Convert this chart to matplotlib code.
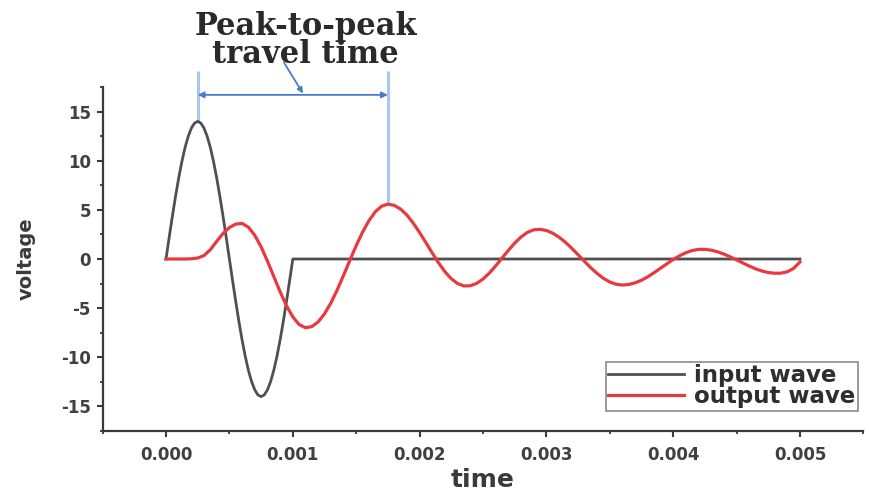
import numpy as np
import matplotlib
matplotlib.use("Agg")
import matplotlib.pyplot as plt
from matplotlib.ticker import MultipleLocator, FormatStrFormatter

# ---- data -------------------------------------------------------------
# input wave: one cycle of a 1 kHz, 14 V sine burst followed by silence
input_time = [0.000, 0.000025, 0.00005, 0.000075, 0.0001, 0.000125, 0.00015,
              0.000175, 0.0002, 0.000225, 0.00025, 0.000275, 0.0003, 0.000325,
              0.00035, 0.000375, 0.0004, 0.000425, 0.00045, 0.000475, 0.0005,
              0.000525, 0.00055, 0.000575, 0.0006, 0.000625, 0.00065, 0.000675,
              0.0007, 0.000725, 0.00075, 0.000775, 0.0008, 0.000825, 0.00085,
              0.000875, 0.0009, 0.000925, 0.00095, 0.000975, 0.001, 0.005]
input_voltage = [0.0, 2.19, 4.33, 6.36, 8.23, 9.90, 11.33, 12.47, 13.31, 13.83,
                 14.0, 13.83, 13.31, 12.47, 11.33, 9.90, 8.23, 6.36, 4.33, 2.19,
                 0.0, -2.19, -4.33, -6.36, -8.23, -9.90, -11.33, -12.47, -13.31,
                 -13.83, -14.0, -13.83, -13.31, -12.47, -11.33, -9.90, -8.23,
                 -6.36, -4.33, -2.19, 0.0, 0.0]

# output wave, sampled every 50 microseconds from 0 to 5 ms
sample_step_s = 0.00005
output_voltage = [0.0, 0.0, 0.0, 0.0, 0.02, 0.10, 0.35, 0.95, 1.80, 2.60,
                  3.20, 3.55, 3.62, 3.23, 2.41, 1.24, -0.21, -1.78, -3.33, -4.75,
                  -5.89, -6.67, -6.99, -6.88, -6.40, -5.58, -4.48, -3.15, -1.67, -0.14,
                  1.36, 2.73, 3.89, 4.80, 5.37, 5.58, 5.46, 5.08, 4.47, 3.65,
                  2.69, 1.66, 0.60, -0.40, -1.30, -2.01, -2.50, -2.74, -2.72, -2.48,
                  -2.04, -1.43, -0.70, 0.09, 0.88, 1.62, 2.24, 2.71, 2.97, 3.02,
                  2.90, 2.63, 2.22, 1.70, 1.09, 0.43, -0.24, -0.89, -1.47, -1.97,
                  -2.34, -2.57, -2.65, -2.59, -2.42, -2.16, -1.81, -1.39, -0.94, -0.49,
                  -0.05, 0.33, 0.64, 0.86, 0.98, 0.98, 0.90, 0.73, 0.50, 0.22,
                  -0.09, -0.41, -0.72, -1.00, -1.22, -1.38, -1.45, -1.44, -1.30, -0.95,
                  -0.30]
output_time = np.round(np.arange(len(output_voltage)) * sample_step_s, 6)

# the two peaks used to measure the travel time
peak_times = [0.00025, 0.00175]
peak_values = [14.0, 5.58]

series_labels = ["input wave", "output wave"]
annotation_text = "Peak-to-peak\ntravel time"

# ---- styling ----------------------------------------------------------
plt.rcParams["axes.unicode_minus"] = False
plt.rcParams["font.family"] = ["DejaVu Sans"]

ink = "#3a3a3a"
input_color = "#505050"
output_color = "#e8393f"
marker_color = "#a9c6ec"
arrow_color = "#4a7cc9"

fig = plt.figure(figsize=(8.69, 4.92), dpi=100)
ax = fig.add_axes([102.6 / 869, 61 / 492, 760.8 / 869, 344 / 492])

ax.plot(input_time, input_voltage, color=input_color, lw=2.0,
        label=series_labels[0], zorder=3)
ax.plot(output_time, output_voltage, color=output_color, lw=2.3,
        label=series_labels[1], zorder=4)

ax.set_xlim(-0.0005, 0.0055)
ax.set_ylim(-17.5, 17.5)

ax.xaxis.set_major_locator(MultipleLocator(0.001))
ax.xaxis.set_minor_locator(MultipleLocator(0.0005))
ax.xaxis.set_major_formatter(FormatStrFormatter("%.3f"))
ax.yaxis.set_major_locator(MultipleLocator(5))
ax.yaxis.set_minor_locator(MultipleLocator(2.5))

for side in ("top", "right"):
    ax.spines[side].set_visible(False)
for side in ("left", "bottom"):
    ax.spines[side].set_color(ink)
    ax.spines[side].set_linewidth(1.6)

ax.tick_params(which="major", direction="out", length=4.5, width=1.5,
               color=ink, labelcolor="#404040", labelsize=12)
ax.tick_params(which="minor", direction="out", length=2.5, width=1.3, color=ink)
ax.tick_params(axis="x", which="major", pad=6)
ax.tick_params(axis="y", which="major", pad=4)
for lab in ax.get_xticklabels() + ax.get_yticklabels():
    lab.set_fontweight("bold")

ax.set_xlabel("time", fontsize=18, fontweight="bold", color=ink, labelpad=3)
ax.set_ylabel("voltage", fontsize=14, fontweight="bold", color=ink, labelpad=18)

# vertical markers rising from the two peaks above the plot
marker_top = 19.1
for t, v in zip(peak_times, peak_values):
    ax.plot([t, t], [v, marker_top], color=marker_color, lw=2.2,
            clip_on=False, zorder=2, solid_capstyle="butt")

# double-headed arrow spanning the travel time
arrow_y = 16.7
ax.annotate("", xy=(peak_times[1], arrow_y), xytext=(peak_times[0], arrow_y),
            arrowprops=dict(arrowstyle="<|-|>", color=arrow_color, lw=1.3,
                            mutation_scale=9, shrinkA=0, shrinkB=0),
            annotation_clip=False, zorder=5)

# caption with a pointer onto the arrow
ax.text(0.00110, 19.9, annotation_text, ha="center", va="baseline",
        fontsize=22, fontweight="bold", family="DejaVu Serif", color="#2a2a2a",
        linespacing=0.9, clip_on=False)
ax.annotate("", xy=(0.00108, arrow_y + 0.15), xytext=(0.00093, 20.0),
            arrowprops=dict(arrowstyle="-|>", color=arrow_color, lw=1.3,
                            mutation_scale=8, shrinkA=0, shrinkB=0),
            annotation_clip=False, zorder=5)

leg = ax.legend(loc="upper left", bbox_to_anchor=(606 / 869, 1 - 362 / 492),
                bbox_transform=fig.transFigure, borderaxespad=0,
                frameon=True, fancybox=False, framealpha=1,
                edgecolor="#8a8a8a", prop={"size": 16.5, "weight": "bold"},
                handlelength=3.3, handletextpad=0.45, labelspacing=-0.08,
                borderpad=0.1)
leg.get_frame().set_linewidth(1.2)
for txt in leg.get_texts():
    txt.set_color("#2e2e2e")

fig.savefig("out.png", dpi=100)
